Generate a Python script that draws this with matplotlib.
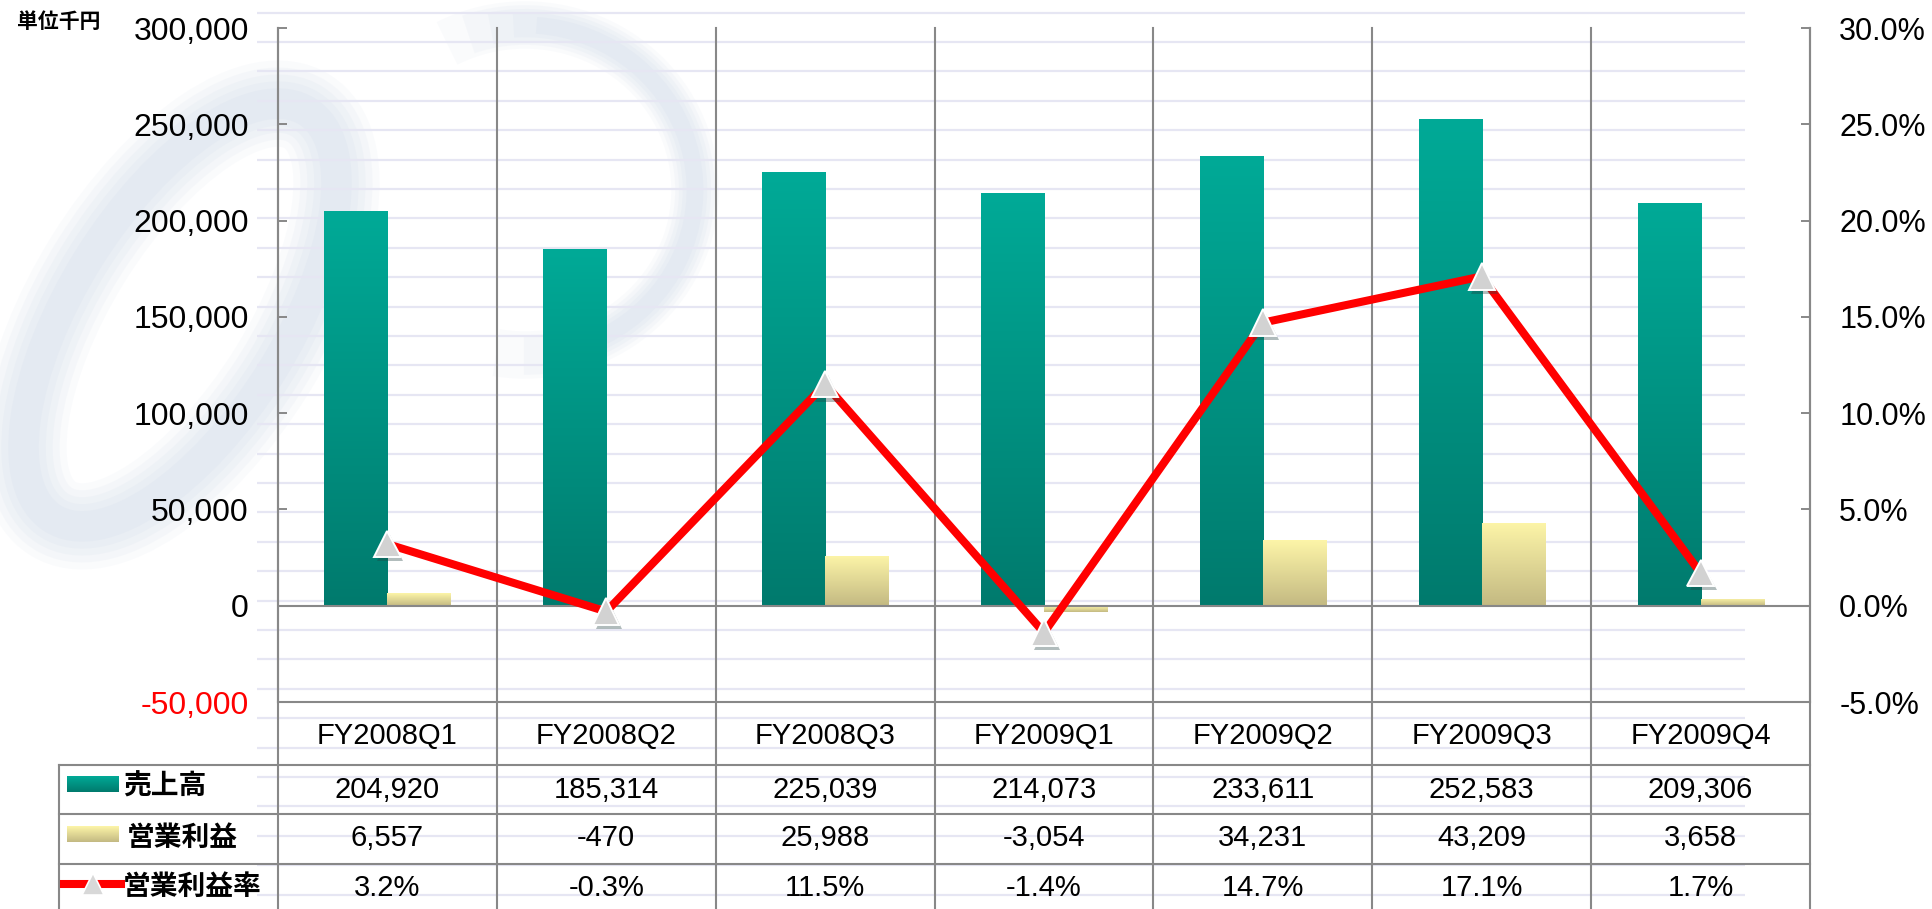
import numpy as np
import matplotlib
matplotlib.use("Agg")
import matplotlib.pyplot as plt
import matplotlib.patheffects as pe
from matplotlib.patches import Ellipse, Arc
from matplotlib.transforms import blended_transform_factory
from matplotlib.colors import LinearSegmentedColormap
from matplotlib.lines import Line2D

# ---------------- data ----------------
categories = ["FY2008Q1", "FY2008Q2", "FY2008Q3", "FY2009Q1", "FY2009Q2", "FY2009Q3", "FY2009Q4"]
sales = [204920, 185314, 225039, 214073, 233611, 252583, 209306]
op_profit = [6557, -470, 25988, -3054, 34231, 43209, 3658]
op_margin = [3.2, -0.3, 11.5, -1.4, 14.7, 17.1, 1.7]
row_labels = ["売上高", "営業利益", "営業利益率"]
unit_label = "単位千円"
left_ticks = [-50000, 0, 50000, 100000, 150000, 200000, 250000, 300000]
right_ticks = [-5, 0, 5, 10, 15, 20, 25, 30]

plt.rcParams["font.family"] = ["Liberation Sans", "Noto Sans CJK JP", "DejaVu Sans"]

W, H = 1933, 909
GRID = "#888888"
fig = plt.figure(figsize=(W / 100, H / 100), dpi=100)
fig.patch.set_facecolor("white")

# background / decoration axes in pixel coordinates
bg = fig.add_axes([0, 0, 1, 1], zorder=0)
bg.axis("off")

# faint watermark swoosh (soft edges and faded ends by layering)
wm = "#d0daea"
layers = [(62, 0.10, 0), (52, 0.12, 8), (42, 0.14, 16), (32, 0.16, 24), (22, 0.18, 32)]
for lw, a, cut in layers:
    bg.add_patch(Ellipse((180, 315), 480, 215, angle=-58, fill=False, ec=wm, lw=lw, alpha=a, zorder=0.5))
    bg.add_patch(Arc((525, 190), 340, 330, angle=0, theta1=-118 + cut, theta2=100 - cut * 1.2,
                     ec=wm, lw=lw * 0.55, alpha=a, zorder=0.5))

# slide stripes
for y in np.arange(12.7, H, 29.4):
    bg.plot([257, 1745], [y, y], color="#e6e6f3", lw=1.6, solid_capstyle="butt", zorder=1)

# ---------------- main chart ----------------
ax = fig.add_axes([278 / W, 1 - 702 / H, 1532 / W, 674 / H], zorder=2)
ax.patch.set_visible(False)
x = np.arange(len(categories))
w = 0.288
b1 = ax.bar(x - w / 2, sales, w, color="#009484", lw=0, zorder=3)
b2 = ax.bar(x + w / 2, op_profit, w, color="#e0d898", lw=0, zorder=3)

teal = LinearSegmentedColormap.from_list("teal", ["#007a6d", "#00aa97"])
yell = LinearSegmentedColormap.from_list("yell", ["#c3b982", "#fdf5a8"])
grad = np.linspace(0, 1, 256).reshape(-1, 1)
for bars, cm in [(b1, teal), (b2, yell)]:
    for bar in bars:
        x0, y0, bw, bh = bar.get_x(), bar.get_y(), bar.get_width(), bar.get_height()
        lo, hi = min(y0, y0 + bh), max(y0, y0 + bh)
        im = ax.imshow(grad, extent=[x0, x0 + bw, lo, hi], origin="lower", aspect="auto",
                       cmap=cm, zorder=3.1, interpolation="bilinear")
        im.set_clip_path(bar)

ax.axhline(0, color=GRID, lw=1.5, zorder=3.5)
ax.set_xlim(-0.5, len(categories) - 0.5)
ax.set_ylim(left_ticks[0], left_ticks[-1])
ax.set_xticks([])
ax.set_yticks(left_ticks)
ax.set_yticklabels([f"{v:,}" for v in left_ticks])
ax.get_yticklabels()[0].set_color("red")
ax.tick_params(axis="y", direction="in", length=6.5, width=1.4, color=GRID, pad=21, labelsize=23)
for s in ["top", "right"]:
    ax.spines[s].set_visible(False)
for s in ["left", "bottom"]:
    ax.spines[s].set_color(GRID)
    ax.spines[s].set_linewidth(1.5)

ax2 = ax.twinx()
ax2.set_zorder(3)
ax2.patch.set_visible(False)
ax2.plot(x, op_margin, color="red", lw=5.8, zorder=5, solid_joinstyle="miter")
ax2.plot(x, op_margin, ls="none", marker="^", ms=19, mfc="#d2d2d2", mec="white", mew=1.4, zorder=6,
         path_effects=[pe.SimplePatchShadow(offset=(2, -3), shadow_rgbFace="#204040", alpha=0.35), pe.Normal()])
ax2.set_ylim(right_ticks[0], right_ticks[-1])
ax2.set_yticks(right_ticks)
ax2.set_yticklabels([f"{v:.1f}%" for v in right_ticks])
ax2.tick_params(axis="y", direction="in", length=6.5, width=1.4, color=GRID, pad=21, labelsize=22)
for s in ["top", "left", "bottom"]:
    ax2.spines[s].set_visible(False)
ax2.spines["right"].set_color(GRID)
ax2.spines["right"].set_linewidth(1.5)

# ---------------- data table ----------------
blend = blended_transform_factory(ax.transData, bg.transData)
for k in range(len(categories) + 1):
    bg.add_line(Line2D([k - 0.5, k - 0.5], [28, H], transform=blend, color=GRID, lw=1.5, zorder=2))
for y in [765, 814, 863.5]:
    bg.plot([59, 1810], [y, y], color=GRID, lw=1.5, zorder=2)
bg.plot([59, 59], [765, H], color=GRID, lw=1.5, zorder=2)

for i, c in enumerate(categories):
    bg.text(i, 736, c, transform=blend, ha="center", va="center", fontsize=21, zorder=3)
    bg.text(i, 790, f"{sales[i]:,}", transform=blend, ha="center", va="center", fontsize=21, zorder=3)
    bg.text(i, 838, f"{op_profit[i]:,}", transform=blend, ha="center", va="center", fontsize=21, zorder=3)
    bg.text(i, 888, f"{op_margin[i]:.1f}%", transform=blend, ha="center", va="center", fontsize=21, zorder=3)

for lab, y, x0 in zip(row_labels, [787, 838, 887], [123, 127, 123]):
    bg.text(x0, y, lab, ha="left", va="center", fontsize=20, fontweight="bold",
            family=["Noto Sans CJK JP"], zorder=3)

# legend keys
bg.imshow(grad, extent=[67, 119, 792, 776], origin="lower", aspect="auto", cmap=teal, zorder=3)
bg.imshow(grad, extent=[67, 119, 842, 826], origin="lower", aspect="auto", cmap=yell, zorder=3)
bg.plot([64, 121], [884, 884], color="red", lw=5.8, zorder=3)
bg.plot([93], [884], marker="^", ms=16, mfc="#d8d8d8", mec="white", mew=1.2, ls="none", zorder=4)

bg.text(17, 22, unit_label, ha="left", va="center", fontsize=15, fontweight="bold",
        family=["Noto Sans CJK JP"], zorder=3)

bg.set_xlim(0, W)
bg.set_ylim(H, 0)

fig.savefig("out.png", dpi=100, facecolor="white")
